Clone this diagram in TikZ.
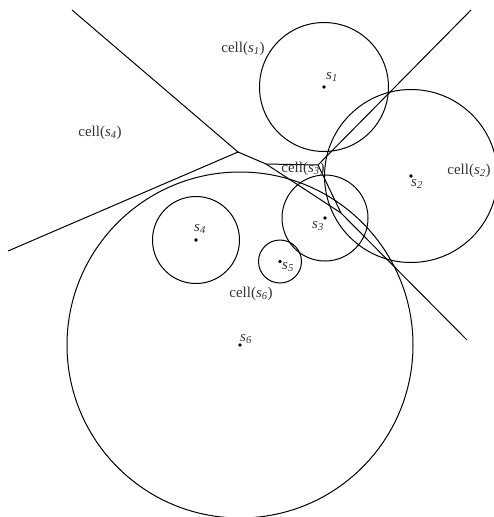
\documentclass[tikz,border=0pt]{standalone}
\usepackage{fontspec}
\setmainfont{Liberation Serif}
\usetikzlibrary{positioning}
\newcommand{\sname}[1]{\textit{s}\textsubscript{\textit{#1}}}

\begin{document}
\begin{tikzpicture}[x=1pt, y=-1pt, line width=1pt,
    site/.style={circle, fill=black, inner sep=0pt, minimum size=3.6pt},
    lbl/.style={text=black!80, inner sep=0pt, font=\fontsize{15}{18}\selectfont}]
    \useasboundingbox (0,0) rectangle (493,517);

    % Sites
    \node[site] (s1) at (324,87) {};
    \node[site] (s2) at (411,176) {};
    \node[site] (s3) at (325,218) {};
    \node[site] (s4) at (196,240) {};
    \node[site] (s5) at (280,261.5) {};
    \node[site] (s6) at (240,345) {};

    % Weight circles
    \draw (s1) circle[radius=64.5pt];
    \draw (s2) circle[radius=86.5pt];
    \draw (s3) circle[radius=43pt];
    \draw (s4) circle[radius=43.5pt];
    \draw (s5) circle[radius=21.5pt];
    \draw (s6) circle[radius=173pt];

    % Power diagram vertices and free ends
    \coordinate (v146) at (238,152);
    \coordinate (v136) at (266,164);
    \coordinate (v123) at (318,165);
    \coordinate (v236) at (341,213);
    \coordinate (e14) at (72,10);
    \coordinate (e46) at (8,251);
    \coordinate (e12) at (471,10);
    \coordinate (e26) at (467,340);

    % Cell boundaries
    \draw (e14) -- (v146) -- (e46);
    \draw (v146) -- (v136) -- (v123) -- (e12);
    \draw (v136) -- (v236) -- (e26);
    \draw (v123) -- (v236);

    % Site labels
    \node[lbl] (l1) at (332,77) {\sname{1}};
    \node[lbl] (l2) at (417,184) {\sname{2}};
    \node[lbl] (l3) at (318,226) {\sname{3}};
    \node[lbl] (l4) at (200,229) {\sname{4}};
    \node[lbl] (l5) at (288,267) {\sname{5}};
    \node[lbl] (l6) at (246,339) {\sname{6}};

    % Cell labels
    \node[lbl] (c1) at (243,49) {cell(\sname{1})};
    \node[lbl] (c2) at (469,171) {cell(\sname{2})};
    \node[lbl] (c3) at (303,169) {cell(\sname{3})};
    \node[lbl] (c4) at (100,133) {cell(\sname{4})};
    \node[lbl] (c6) at (251,294) {cell(\sname{6})};
\end{tikzpicture}
\end{document}
